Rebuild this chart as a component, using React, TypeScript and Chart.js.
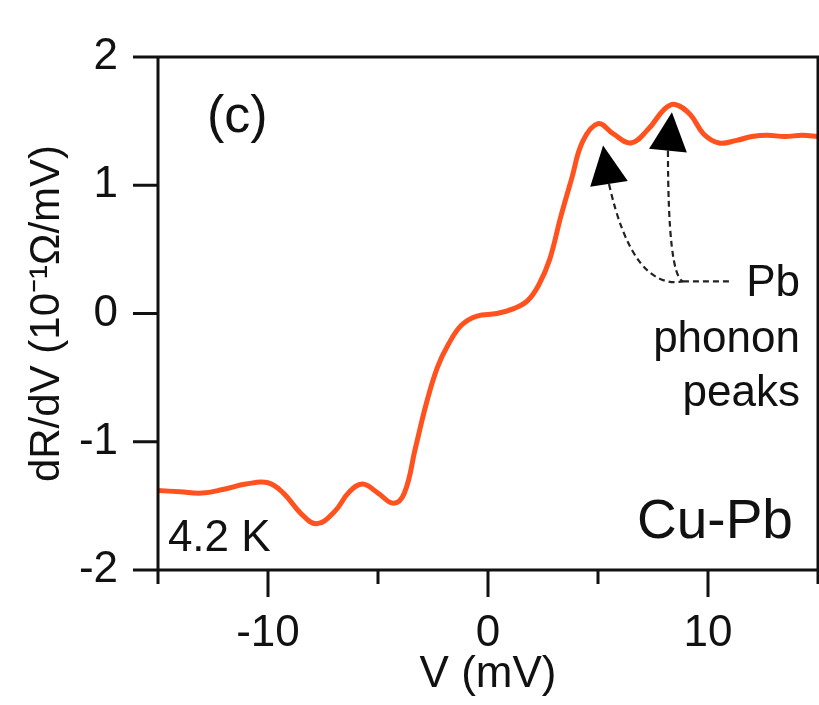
import { useEffect, useRef } from 'react';
import { Chart, registerables } from 'chart.js';

Chart.register(...registerables);

const FONT = "'Liberation Sans', Arial, Helvetica, sans-serif";

// Bias voltage (mV) and dR/dV (10^-1 Ω/mV)
const voltage = [
  -15, -14, -13, -12, -11, -10, -9.3, -8.5, -7.8, -7, -6.3, -5.7, -5, -4.3, -3.8, -3.3, -2.8, -2.3,
  -1.8, -1.2, -0.5, 0.4, 1.2, 1.8, 2.3, 2.8, 3.3, 3.8, 4.3, 5.0, 5.7, 6.5, 7.3, 8.0, 8.5, 9.2, 9.8,
  10.5, 11.3, 12.0, 12.7, 13.5, 14.3, 15,
];
const dRdV = [
  -1.38, -1.39, -1.4, -1.37, -1.33, -1.32, -1.4, -1.56, -1.64, -1.55, -1.39, -1.33, -1.4, -1.48, -1.4,
  -1.05, -0.7, -0.42, -0.24, -0.09, -0.02, 0.0, 0.04, 0.1, 0.22, 0.42, 0.75, 1.05, 1.34, 1.48, 1.4,
  1.33, 1.44, 1.59, 1.63, 1.55, 1.4, 1.33, 1.35, 1.38, 1.39, 1.38, 1.39, 1.38,
];

const xMajorTicks = [-10, 0, 10];
const xMinorTicks = [-15, -5, 5, 15];
const yTicks = [-2, -1, 0, 1, 2];

// Annotation geometry in data units (V, dR/dV)
const arrowTips = [[5.23, 1.31], [8.36, 1.57]];
const arrowBases = [[5.5, 1.01], [8.18, 1.27]];
const arrowControls = [[6.59, 0.18], [8.18, 0.3]];
const arrowJoin = [8.86, 0.25];
const leaderEnd = [11.09, 0.25];

const labelPanel = { text: '(c)', at: [-11.4, 1.53] };
const labelTemp = { text: '4.2 K', at: [-14.55, -1.85] };
const labelSample = { text: 'Cu-Pb', at: [13.86, -1.75] };
const labelPeaks = ['Pb', 'phonon', 'peaks'];
const labelPeaksX = 14.18;
const labelPeaksY = [0.14, -0.3, -0.72];

const framePlugin = {
  id: 'frameAndNotes',
  afterDatasetsDraw(chart: any) {
    const { ctx, chartArea, scales } = chart;
    const { left, right, top, bottom } = chartArea;
    const x = scales.x;
    const y = scales.y;
    const px = (p: number[]) => [x.getPixelForValue(p[0]), y.getPixelForValue(p[1])];
    ctx.save();

    // frame + ticks
    ctx.strokeStyle = '#111';
    ctx.lineWidth = 3;
    ctx.setLineDash([]);
    ctx.beginPath();
    ctx.rect(left, top, right - left, bottom - top);
    for (const v of yTicks) {
      const py = y.getPixelForValue(v);
      ctx.moveTo(left - 25, py);
      ctx.lineTo(left, py);
    }
    for (const v of xMajorTicks) {
      const p = x.getPixelForValue(v);
      ctx.moveTo(p, bottom);
      ctx.lineTo(p, bottom + 27);
    }
    for (const v of xMinorTicks) {
      const p = x.getPixelForValue(v);
      ctx.moveTo(p, bottom);
      ctx.lineTo(p, bottom + 14);
    }
    ctx.stroke();

    // dashed leader curves
    ctx.lineWidth = 2.2;
    ctx.setLineDash([6, 4]);
    ctx.strokeStyle = '#222';
    const j = px(arrowJoin);
    for (let i = 0; i < arrowBases.length; i++) {
      const b = px(arrowBases[i]);
      const c = px(arrowControls[i]);
      ctx.beginPath();
      ctx.moveTo(b[0], b[1]);
      ctx.quadraticCurveTo(c[0], c[1], j[0], j[1]);
      ctx.stroke();
    }
    const le = px(leaderEnd);
    ctx.beginPath();
    ctx.moveTo(j[0], j[1]);
    ctx.lineTo(le[0], le[1]);
    ctx.stroke();
    ctx.setLineDash([]);

    // arrow heads
    ctx.fillStyle = '#000';
    for (let i = 0; i < arrowTips.length; i++) {
      const t = px(arrowTips[i]);
      const b = px(arrowBases[i]);
      const dx = t[0] - b[0];
      const dy = t[1] - b[1];
      const len = Math.hypot(dx, dy);
      const nx = -dy / len;
      const ny = dx / len;
      const hw = 19;
      ctx.beginPath();
      ctx.moveTo(t[0], t[1]);
      ctx.lineTo(b[0] + nx * hw, b[1] + ny * hw);
      ctx.lineTo(b[0] - nx * hw, b[1] - ny * hw);
      ctx.closePath();
      ctx.fill();
    }

    // text labels
    ctx.fillStyle = '#111';
    let p = px(labelPanel.at);
    ctx.font = `52px ${FONT}`;
    ctx.textAlign = 'center';
    ctx.textBaseline = 'middle';
    ctx.fillText(labelPanel.text, p[0], p[1]);

    ctx.textBaseline = 'alphabetic';
    p = px(labelTemp.at);
    ctx.textAlign = 'left';
    ctx.font = `44px ${FONT}`;
    ctx.fillText(labelTemp.text, p[0], p[1]);

    p = px(labelSample.at);
    ctx.textAlign = 'right';
    ctx.font = `55px ${FONT}`;
    ctx.fillText(labelSample.text, p[0], p[1]);

    ctx.font = `44px ${FONT}`;
    for (let i = 0; i < labelPeaks.length; i++) {
      const q = px([labelPeaksX, labelPeaksY[i]]);
      ctx.fillText(labelPeaks[i], q[0], q[1]);
    }
    ctx.restore();
  },
};

const clearPadding = (s: any) => {
  s.paddingLeft = 0;
  s.paddingRight = 0;
  s.paddingTop = 0;
  s.paddingBottom = 0;
};

export default function App() {
  const ref = useRef<HTMLCanvasElement | null>(null);

  useEffect(() => {
    if (!ref.current) return;
    const tickFont = { family: FONT, size: 44 };
    const chart = new Chart(ref.current, {
      type: 'line',
      data: {
        datasets: [
          {
            data: voltage.map((v, i) => ({ x: v, y: dRdV[i] })),
            borderColor: '#FF521E',
            borderWidth: 5,
            pointRadius: 0,
            tension: 0.4,
            fill: false,
          },
        ],
      },
      options: {
        responsive: false,
        animation: false,
        layout: { padding: { top: 57, right: 1, left: 0, bottom: 0 } },
        plugins: { legend: { display: false }, tooltip: { enabled: false } },
        scales: {
          x: {
            type: 'linear',
            min: -15,
            max: 15,
            afterFit(s: any) {
              s.height = 135;
              clearPadding(s);
            },
            grid: { display: false, drawTicks: false },
            border: { display: false },
            ticks: {
              stepSize: 5,
              autoSkip: false,
              maxRotation: 0,
              padding: 37,
              color: '#111',
              font: tickFont,
              callback: (v: any) => (Number(v) % 10 === 0 ? String(v) : ''),
            },
            title: {
              display: true,
              text: 'V (mV)',
              color: '#111',
              font: { family: FONT, size: 44 },
              padding: { top: 0, bottom: 4 },
            },
          },
          y: {
            type: 'linear',
            min: -2,
            max: 2,
            afterFit(s: any) {
              s.width = 158;
              clearPadding(s);
            },
            grid: { display: false, drawTicks: false },
            border: { display: false },
            ticks: {
              stepSize: 1,
              padding: 40,
              color: '#111',
              font: tickFont,
            },
            title: {
              display: true,
              text: 'dR/dV (10⁻¹Ω/mV)',
              color: '#111',
              font: { family: FONT, size: 42 },
              padding: { top: 22, bottom: 0 },
            },
          },
        },
      },
      plugins: [framePlugin],
    } as any);
    return () => chart.destroy();
  }, []);

  return (
    <div style={{ position: 'fixed', left: 0, top: 0, width: 819, height: 705, background: '#fff' }}>
      <canvas ref={ref} width={819} height={705} style={{ display: 'block' }} />
    </div>
  );
}
